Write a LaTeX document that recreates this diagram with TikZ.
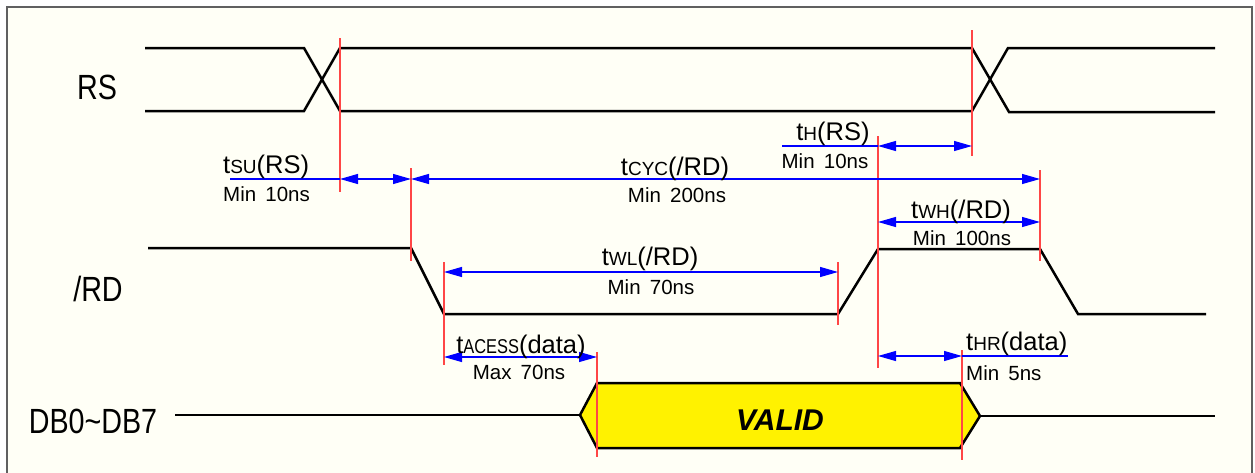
\documentclass[tikz,border=0pt]{standalone}
\usepackage{fontspec}
\setmainfont{Liberation Sans}
\newfontfamily\lblfont[FakeStretch=0.82]{Liberation Sans}
\usetikzlibrary{arrows.meta}
\definecolor{bgc}{RGB}{255,255,246}
\definecolor{frm}{RGB}{96,96,96}
\definecolor{redm}{RGB}{255,70,70}
\definecolor{bluem}{RGB}{0,0,255}
\newcommand\tsub[1]{{\fontsize{19}{20}\selectfont #1}}
\newcommand\nsub[1]{{\lblfont\fontsize{20}{21}\selectfont #1}}
\newcommand\minsp{\hspace{0.45em}}
\begin{document}
\begin{tikzpicture}[x=1pt,y=-1pt,
  sig/.style={line width=2.5pt,black,line join=miter},
  redmark/.style={draw=redm,line width=1.2pt},
  dimarrow/.style={draw=bluem,line width=1.2pt,{Triangle[length=18pt,width=10pt]}-{Triangle[length=18pt,width=10pt]}},
  dimline/.style={draw=bluem,line width=1.2pt},
  tl/.style={font=\fontsize{25.5}{27}\selectfont,inner sep=0pt},
  ml/.style={font=\fontsize{20.5}{22}\selectfont,inner sep=0pt},
  sigl/.style={font=\lblfont\fontsize{35}{37}\selectfont,inner sep=0pt},
  vl/.style={font=\fontsize{30}{32}\selectfont\bfseries\itshape,inner sep=0pt}]
\useasboundingbox (0,0) rectangle (1255,472);
\clip (0,0) rectangle (1255,472);
% frame
\draw[fill=bgc,draw=frm,line width=2pt] (7,7) rectangle (1252,490);

% signal labels
\node[sigl,anchor=base] (lrs) at (97,99) {RS};
\node[sigl,anchor=base] (lrd) at (98,301) {/RD};
\node[sigl,anchor=base] (ldb) at (93,433) {DB0\textasciitilde DB7};

% RS waveform
\draw[sig] (145,48) -- (304,48) -- (340,111) -- (972,111) -- (1008,48) -- (1215,48);
\draw[sig] (145,111) -- (304,111) -- (340,48) -- (972,48) -- (1009,112) -- (1215,112);

% /RD waveform
\draw[sig] (148,248) -- (411,248) -- (444,314) -- (838,314) -- (878,249) -- (1040,249) -- (1078,314) -- (1206,314);

% data bus
\draw[sig,fill=yellow] (597,383) -- (960,383) -- (980,416) -- (960,448) -- (597,448) -- (580,415) -- cycle;
\draw[sig] (175,415) -- (580,415);
\draw[sig] (980,416) -- (1215,416);
\node[vl,anchor=base] (valid) at (780,430) {VALID};

% marker coordinates
\coordinate (a1) at (340,38);  \coordinate (a2) at (340,192);
\coordinate (b1) at (411,168); \coordinate (b2) at (411,261);
\coordinate (c1) at (444,262); \coordinate (c2) at (444,365);
\coordinate (d1) at (597,352); \coordinate (d2) at (597,457);
\coordinate (e1) at (838,262); \coordinate (e2) at (838,325);
\coordinate (f1) at (878,136); \coordinate (f2) at (878,368);
\coordinate (g1) at (962,350); \coordinate (g2) at (962,460);
\coordinate (h1) at (972,30);  \coordinate (h2) at (972,156);
\coordinate (i1) at (1040,170); \coordinate (i2) at (1040,261);
\foreach \p in {a,b,c,d,e,f,g,h,i} {\draw[redmark] (\p1) -- (\p2);}

% dimension coordinates
\coordinate (tsuS) at (230,179); \coordinate (tsuA) at (340,179); \coordinate (tsuB) at (411,179);
\coordinate (cycE) at (1040,179);
\coordinate (thS) at (782,146); \coordinate (thA) at (878,146); \coordinate (thB) at (972,146);
\coordinate (twhA) at (878,222); \coordinate (twhB) at (1040,222);
\coordinate (twlA) at (444,272); \coordinate (twlB) at (838,272);
\coordinate (tacA) at (444,357); \coordinate (tacB) at (597,357);
\coordinate (thrA) at (878,356); \coordinate (thrB) at (962,356); \coordinate (thrE) at (1068,356);

\draw[dimline] (tsuS) -- (tsuA);
\draw[dimarrow] (tsuA) -- (tsuB);
\draw[dimarrow] (tsuB) -- (cycE);
\draw[dimline] (thS) -- (thA);
\draw[dimarrow] (thA) -- (thB);
\draw[dimarrow] (twhA) -- (twhB);
\draw[dimarrow] (twlA) -- (twlB);
\draw[dimarrow] (tacA) -- (tacB);
\draw[dimarrow] (thrA) -- (thrB);
\draw[dimline] (thrB) -- (thrE);

% timing labels
\node[tl,anchor=base west] (tsu) at (223,173) {t\tsub{SU}(RS)};
\node[ml,anchor=base west] (tsum) at (223,201) {Min\minsp 10ns};
\node[tl,anchor=base] (tcyc) at (675,175) {t\tsub{CYC}(/RD)};
\node[ml,anchor=base] (tcycm) at (677,202) {Min\minsp 200ns};
\node[tl,anchor=base] (th) at (833,140) {t\tsub{H}(RS)};
\node[ml,anchor=base] (thm) at (825,168) {Min\minsp 10ns};
\node[tl,anchor=base] (twh) at (961,218) {t\tsub{WH}(/RD)};
\node[ml,anchor=base] (twhm) at (962,245) {Min\minsp 100ns};
\node[tl,anchor=base] (twl) at (650,265) {t\tsub{WL}(/RD)};
\node[ml,anchor=base] (twlm) at (651,294) {Min\minsp 70ns};
\node[tl,anchor=base] (tac) at (521,353) {t\nsub{ACESS}(data)};
\node[ml,anchor=base] (tacm) at (519,379) {Max\minsp 70ns};
\node[tl,anchor=base west] (thr) at (966,350) {t\tsub{HR}(data)};
\node[ml,anchor=base west] (thrm) at (966,380) {Min\minsp 5ns};
\end{tikzpicture}
\end{document}
